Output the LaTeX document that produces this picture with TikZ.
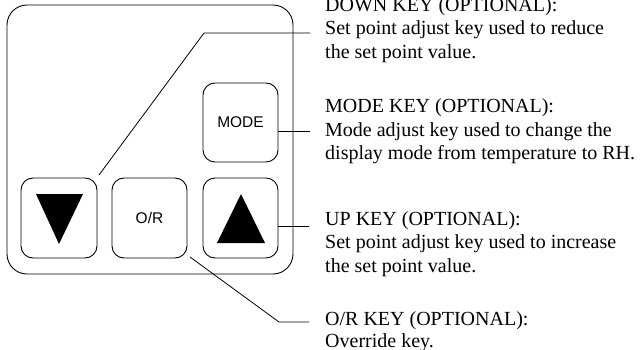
\documentclass[tikz,border=0pt]{standalone}
\usepackage{fontspec}
\setmainfont{Liberation Serif}
\setsansfont{Liberation Sans}
\begin{document}
\begin{tikzpicture}[x=1pt,y=-1pt,
  keybox/.style={draw, line width=0.9pt, rounded corners=12pt, inner sep=0pt,
    font=\sffamily\fontsize{15.5}{18}\selectfont},
  lbl/.style={anchor=base west, inner sep=0pt, font=\fontsize{20}{23.5}\selectfont},
  leader/.style={draw, line width=0.8pt}]
\useasboundingbox (0,0) rectangle (640,350);
% panel
\draw[line width=0.9pt, rounded corners=20pt] (7,5) rectangle (293,274);
% keys
\node[keybox, minimum width=76pt, minimum height=80pt] (down) at (59,218) {};
\node[keybox, minimum width=75pt, minimum height=80pt] (or) at (149.5,218) {O/R};
\node[keybox, minimum width=75pt, minimum height=80pt] (up) at (240.5,218) {};
\node[keybox, minimum width=75pt, minimum height=79pt] (mode) at (240.5,122.5) {MODE};
% triangles
\fill (36,194) -- (83,194) -- (59,244) -- cycle;
\fill (217,243) -- (265,243) -- (241,194) -- cycle;
% leader coordinates
\coordinate (d0) at (99,175);
\coordinate (d1) at (204,33);
\coordinate (d2) at (310,33);
\coordinate (m0) at (278,131);
\coordinate (m1) at (310,131);
\coordinate (u0) at (278,226);
\coordinate (u1) at (309,226);
\coordinate (o0) at (190,257);
\coordinate (o1) at (279,322);
\coordinate (o2) at (309,322);
\draw[leader] (d0) -- (d1) -- (d2);
\draw[leader] (m0) -- (m1);
\draw[leader] (u0) -- (u1);
\draw[leader] (o0) -- (o1) -- (o2);
% labels
\node[lbl] (dA) at (325,11.5) {DOWN KEY (OPTIONAL):};
\node[lbl] (dB) at (325,35) {Set point adjust key used to reduce};
\node[lbl] (dC) at (325,58.5) {the set point value.};
\node[lbl] (mA) at (325,113) {MODE KEY (OPTIONAL):};
\node[lbl] (mB) at (325,136.5) {Mode adjust key used to change the};
\node[lbl] (mC) at (325,160) {display mode from temperature to RH.};
\node[lbl] (uA) at (325,225) {UP KEY (OPTIONAL):};
\node[lbl] (uB) at (325,248.5) {Set point adjust key used to increase};
\node[lbl] (uC) at (325,272) {the set point value.};
\node[lbl] (oA) at (325,325) {O/R KEY (OPTIONAL):};
\node[lbl] (oB) at (325,347) {Override key.};
\end{tikzpicture}
\end{document}
